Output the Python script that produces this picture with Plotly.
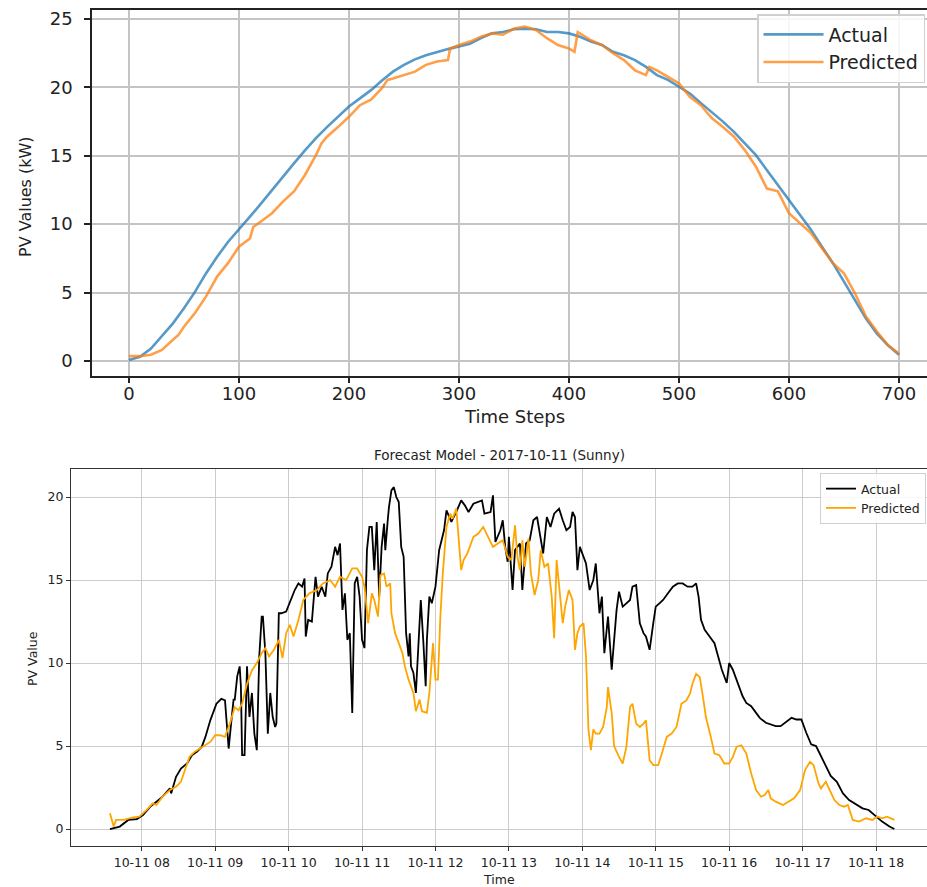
import plotly.graph_objects as go

# ---------------- Top chart data (time steps) ----------------
top_act_x = [0, 10, 20, 30, 40, 50, 60, 70, 80, 90, 100, 110, 120, 130, 140, 150, 160, 170, 180, 190,
             200, 210, 220, 230, 240, 250, 260, 270, 280, 290, 300, 310, 320, 330, 340, 350, 360, 370,
             380, 390, 400, 410, 420, 430, 440, 450, 460, 470, 480, 490, 500, 510, 520, 530, 540, 550,
             560, 570, 580, 590, 600, 610, 620, 630, 640, 650, 660, 670, 680, 690, 700]
top_act_y = [0.07, 0.3, 0.9, 1.8, 2.75, 3.85, 5.05, 6.4, 7.6, 8.7, 9.6, 10.55, 11.5, 12.5, 13.5, 14.45,
             15.4, 16.3, 17.1, 17.85, 18.6, 19.2, 19.8, 20.5, 21.15, 21.65, 22.05, 22.35, 22.6, 22.8,
             23.0, 23.2, 23.6, 23.95, 24.05, 24.25, 24.3, 24.25, 24.05, 24.05, 23.95, 23.7, 23.35, 23.1,
             22.6, 22.35, 22.0, 21.5, 20.9, 20.55, 20.05, 19.55, 18.85, 18.2, 17.5, 16.75, 15.9, 15.05,
             13.95, 12.85, 11.75, 10.65, 9.6, 8.35, 7.15, 5.8, 4.45, 3.1, 2.0, 1.15, 0.45]

top_pred_x = [0, 10, 20, 30, 40, 45, 50, 60, 70, 80, 90, 100, 110, 113, 120, 130, 140, 150, 160, 170,
              175, 180, 190, 200, 210, 220, 230, 235, 240, 250, 260, 270, 280, 290, 292, 300, 310, 320,
              330, 340, 350, 360, 370, 380, 390, 400, 405, 408, 415, 420, 430, 440, 450, 460, 470, 473,
              480, 490, 500, 510, 520, 525, 530, 540, 550, 560, 570, 580, 590, 600, 610, 620, 630, 640,
              650, 660, 670, 680, 690, 700]
top_pred_y = [0.35, 0.35, 0.45, 0.8, 1.55, 1.9, 2.5, 3.5, 4.7, 6.15, 7.15, 8.35, 8.95, 9.8, 10.2, 10.8,
              11.65, 12.4, 13.6, 15.05, 15.9, 16.4, 17.1, 17.85, 18.7, 19.1, 19.95, 20.55, 20.65, 20.9,
              21.15, 21.65, 21.9, 22.0, 22.85, 23.1, 23.35, 23.7, 23.95, 23.85, 24.3, 24.45, 24.2, 23.6,
              23.1, 22.85, 22.6, 24.05, 23.7, 23.45, 23.1, 22.5, 22.0, 21.25, 20.9, 21.5, 21.25, 20.8,
              20.3, 19.3, 18.7, 18.2, 17.75, 17.1, 16.4, 15.4, 14.2, 12.6, 12.4, 10.8, 10.05, 9.35, 8.25,
              7.15, 6.4, 4.95, 3.25, 2.15, 1.15, 0.55]

top_x_ticks = [0, 100, 200, 300, 400, 500, 600, 700]
top_y_ticks = [0, 5, 10, 15, 20, 25]

# ---------------- Bottom chart data (2017-10-11) ----------------
DAY = "2017-10-11 "
bot_act_t = ["07:34", "07:42", "07:49", "07:56", "08:01", "08:07", "08:12", "08:17", "08:23", "08:24",
             "08:28", "08:32", "08:37", "08:41", "08:45", "08:49", "08:52", "08:56", "09:01", "09:05",
             "09:08", "09:09", "09:11", "09:13", "09:15", "09:16", "09:18", "09:20", "09:21", "09:22",
             "09:24", "09:26", "09:28", "09:30", "09:32", "09:34", "09:36", "09:38", "09:39", "09:41",
             "09:43", "09:45", "09:47", "09:49", "09:50", "09:52", "09:54", "09:58", "10:02", "10:05",
             "10:08", "10:11", "10:13", "10:14", "10:16", "10:19", "10:22", "10:24", "10:27", "10:30",
             "10:32", "10:35", "10:38", "10:40", "10:42", "10:44", "10:46", "10:48", "10:50", "10:52",
             "10:54", "10:56", "10:58", "11:00", "11:02", "11:04", "11:06", "11:08", "11:10", "11:12",
             "11:14", "11:16", "11:18", "11:19", "11:21", "11:22", "11:24", "11:26", "11:28", "11:30",
             "11:32", "11:34", "11:36", "11:38", "11:39", "11:40", "11:42", "11:44", "11:46", "11:48",
             "11:50", "11:52", "11:53", "11:55", "11:57", "12:00", "12:03", "12:07", "12:09", "12:13",
             "12:17", "12:21", "12:24", "12:27", "12:31", "12:35", "12:38", "12:40", "12:45", "12:47",
             "12:49", "12:53", "12:55", "12:57", "12:59", "13:00", "13:03", "13:05", "13:09", "13:11",
             "13:14", "13:17", "13:20", "13:23", "13:25", "13:28", "13:31", "13:34", "13:37", "13:41",
             "13:44", "13:47", "13:50", "13:52", "13:54", "13:56", "13:58", "14:00", "14:03", "14:06",
             "14:09", "14:11", "14:14", "14:16", "14:18", "14:21", "14:24", "14:26", "14:28", "14:30",
             "14:33", "14:36", "14:39", "14:41", "14:44", "14:47", "14:50", "14:52", "14:55", "14:58",
             "15:00", "15:03", "15:06", "15:10", "15:14", "15:18", "15:22", "15:26", "15:30", "15:33",
             "15:35", "15:37", "15:40", "15:44", "15:48", "15:51", "15:54", "15:58", "16:00", "16:03",
             "16:07", "16:11", "16:14", "16:18", "16:22", "16:25", "16:30", "16:34", "16:38", "16:42",
             "16:47", "16:51", "16:55", "16:59", "17:03", "17:07", "17:11", "17:15", "17:19", "17:23",
             "17:28", "17:33", "17:38", "17:44", "17:49", "17:54", "18:00", "18:05", "18:11", "18:15"]
bot_act_v = [0.0, 0.15, 0.55, 0.6, 0.85, 1.35, 1.65, 1.95, 2.45, 2.15,
             3.15, 3.65, 3.95, 4.45, 4.65, 4.95, 5.55, 6.55, 7.55, 7.85,
             7.75, 6.75, 4.85, 6.35, 7.8, 7.8, 9.2, 9.8, 8.6, 4.45,
             4.45, 9.8, 6.75, 8.2, 5.75, 4.75, 10.4, 12.8, 12.8, 10.6,
             5.75, 8.2, 6.75, 6.15, 6.35, 13.0, 13.0, 13.1, 13.9, 14.4,
             14.8, 14.6, 15.1, 11.6, 12.6, 12.5, 15.2, 14.0, 14.6, 14.0,
             15.4, 15.8, 17.0, 16.5, 17.2, 13.2, 14.2, 11.4, 11.8, 7.0,
             14.8, 15.2, 14.0, 11.4, 10.9, 16.8, 18.2, 18.2, 15.6, 18.5,
             14.0, 17.0, 18.4, 16.8, 18.6, 19.4, 20.4, 20.6, 20.0, 19.7,
             17.0, 16.4, 11.8, 10.4, 11.8, 9.8, 9.4, 8.2, 11.0, 13.8,
             11.4, 8.6, 11.4, 14.0, 13.6, 14.6, 16.8, 18.0, 19.2, 18.5,
             19.1, 19.8, 19.5, 19.1, 19.6, 19.7, 19.8, 19.0, 19.1, 20.1,
             17.3, 18.0, 18.6, 17.0, 16.1, 17.6, 14.4, 16.8, 17.2, 14.4,
             17.2, 17.4, 18.6, 18.8, 18.0, 16.6, 18.8, 18.2, 19.0, 19.3,
             18.6, 18.0, 18.2, 19.1, 18.8, 15.6, 17.0, 16.6, 16.0, 14.4,
             15.0, 16.0, 13.0, 14.0, 10.6, 12.8, 9.6, 11.4, 13.2, 14.3,
             13.4, 13.6, 13.8, 14.6, 14.7, 12.4, 11.8, 11.6, 10.8, 12.4,
             13.4, 13.6, 13.8, 14.2, 14.6, 14.8, 14.8, 14.6, 14.6, 14.8,
             14.0, 12.6, 12.0, 11.6, 11.2, 10.4, 9.6, 8.8, 10.0, 9.6,
             8.8, 8.0, 7.6, 7.4, 7.0, 6.7, 6.4, 6.3, 6.2, 6.2,
             6.5, 6.7, 6.6, 6.6, 5.8, 5.1, 5.0, 4.4, 3.7, 3.2,
             2.85, 2.15, 1.75, 1.45, 1.25, 1.15, 0.75, 0.45, 0.15, 0.0]

bot_pred_t = ["07:34", "07:37", "07:39", "07:45", "07:53", "07:58", "08:04", "08:09", "08:12", "08:17",
              "08:23", "08:28", "08:32", "08:35", "08:39", "08:43", "08:47", "08:52", "08:56", "09:00",
              "09:04", "09:08", "09:12", "09:16", "09:19", "09:22", "09:26", "09:30", "09:34", "09:38",
              "09:41", "09:44", "09:48", "09:52", "09:55", "09:58", "10:01", "10:04", "10:08", "10:12",
              "10:17", "10:23", "10:28", "10:34", "10:38", "10:42", "10:47", "10:52", "10:56", "11:00",
              "11:02", "11:05", "11:08", "11:10", "11:13", "11:15", "11:18", "11:20", "11:23", "11:24",
              "11:27", "11:30", "11:33", "11:35", "11:38", "11:42", "11:44", "11:47", "11:49", "11:53",
              "11:55", "11:58", "12:00", "12:02", "12:04", "12:06", "12:09", "12:12", "12:14", "12:17",
              "12:19", "12:21", "12:23", "12:26", "12:31", "12:35", "12:39", "12:43", "12:47", "12:51",
              "12:55", "12:59", "13:02", "13:05", "13:07", "13:09", "13:11", "13:13", "13:16", "13:18",
              "13:21", "13:24", "13:26", "13:29", "13:32", "13:35", "13:37", "13:39", "13:41", "13:44",
              "13:46", "13:49", "13:52", "13:54", "13:56", "13:58", "14:01", "14:03", "14:05", "14:07",
              "14:09", "14:11", "14:14", "14:17", "14:20", "14:21", "14:24", "14:26", "14:30", "14:33",
              "14:36", "14:39", "14:41", "14:44", "14:47", "14:50", "14:52", "14:55", "14:58", "15:02",
              "15:05", "15:09", "15:13", "15:17", "15:21", "15:25", "15:28", "15:30", "15:33", "15:36",
              "15:39", "15:41", "15:45", "15:48", "15:52", "15:56", "16:00", "16:03", "16:06", "16:10",
              "16:14", "16:18", "16:22", "16:26", "16:29", "16:32", "16:34", "16:38", "16:44", "16:49",
              "16:53", "16:58", "17:02", "17:06", "17:09", "17:13", "17:15", "17:19", "17:22", "17:26",
              "17:30", "17:34", "17:37", "17:41", "17:46", "17:52", "17:57", "18:01", "18:05", "18:09",
              "18:15"]
bot_pred_v = [0.95, 0.15, 0.55, 0.55, 0.7, 0.75, 1.15, 1.55, 1.45, 1.95,
              2.35, 2.55, 2.85, 3.55, 4.35, 4.65, 4.85, 5.05, 5.25, 5.65,
              5.65, 5.55, 6.35, 7.35, 7.15, 7.55, 8.75, 9.55, 10.0, 10.6,
              10.9, 10.4, 10.8, 11.4, 10.3, 11.8, 12.3, 11.6, 12.6, 13.8,
              14.2, 14.4, 14.8, 15.0, 14.6, 15.2, 15.0, 15.7, 15.7, 15.2,
              14.6, 12.4, 14.2, 13.8, 12.8, 15.3, 15.4, 14.6, 14.8, 13.0,
              11.8, 11.2, 10.6, 9.8, 9.0, 8.2, 7.1, 7.8, 7.1, 7.0,
              8.2, 11.2, 9.0, 9.0, 12.8, 15.4, 18.2, 19.0, 18.7, 19.3,
              17.6, 15.6, 16.2, 16.6, 17.6, 17.8, 18.2, 17.6, 17.0, 17.2,
              17.4, 16.4, 16.2, 18.3, 16.4, 15.6, 17.4, 15.8, 17.5, 15.4,
              14.1, 15.0, 16.8, 15.8, 16.0, 14.0, 11.5, 16.2, 14.6, 12.4,
              13.4, 14.4, 13.8, 10.8, 11.8, 12.2, 12.4, 10.4, 6.0, 4.75,
              6.0, 5.75, 5.75, 6.15, 7.35, 8.55, 7.0, 5.0, 4.35, 3.95,
              4.95, 7.35, 7.55, 6.35, 6.15, 6.35, 6.55, 4.15, 3.85, 3.85,
              4.55, 5.55, 5.75, 6.15, 7.55, 7.75, 8.15, 8.75, 9.35, 9.15,
              7.75, 6.75, 5.55, 4.55, 4.45, 3.95, 3.95, 4.35, 4.95, 5.05,
              4.55, 3.35, 2.35, 1.95, 2.05, 2.35, 1.85, 1.65, 1.45, 1.65,
              1.85, 2.35, 3.55, 4.05, 3.85, 2.75, 2.45, 2.85, 2.35, 1.75,
              1.45, 1.35, 1.45, 0.55, 0.45, 0.65, 0.55, 0.75, 0.65, 0.75,
              0.55]

bot_y_ticks = [0, 5, 10, 15, 20]

# ---------------- Figure ----------------
W, H = 927, 887


def px(x):
    return x / W


def py(y):
    return 1 - y / H


fig = go.Figure()

fig.add_trace(go.Scatter(x=top_act_x, y=top_act_y, mode="lines", name="Actual",
                         line=dict(color="rgba(31,119,180,0.75)", width=2.6),
                         xaxis="x", yaxis="y", legend="legend"))
fig.add_trace(go.Scatter(x=top_pred_x, y=top_pred_y, mode="lines", name="Predicted",
                         line=dict(color="rgba(255,127,14,0.75)", width=2.6),
                         xaxis="x", yaxis="y", legend="legend"))

bt_act = [DAY + t for t in bot_act_t]
bt_pred = [DAY + t for t in bot_pred_t]
fig.add_trace(go.Scatter(x=bt_act, y=bot_act_v, mode="lines", name="Actual",
                         line=dict(color="black", width=1.8),
                         xaxis="x2", yaxis="y2", legend="legend2"))
fig.add_trace(go.Scatter(x=bt_pred, y=bot_pred_v, mode="lines", name="Predicted",
                         line=dict(color="#FFA500", width=1.8),
                         xaxis="x2", yaxis="y2", legend="legend2"))

top_font = dict(family="DejaVu Sans", size=18, color="#222")
bot_font = dict(family="DejaVu Sans", size=12.5, color="#222")

fig.update_layout(
    width=W, height=H,
    margin=dict(l=0, r=0, t=0, b=0, autoexpand=False),
    paper_bgcolor="white", plot_bgcolor="white",
    xaxis=dict(domain=[px(92), 1.0], anchor="y", range=[-33.6, 725.5], automargin=False,
               tickvals=top_x_ticks, ticks="outside", ticklen=5, tickwidth=1.5,
               tickcolor="#222", showline=True, linecolor="#222", linewidth=1.6, mirror=True,
               showgrid=True, gridcolor="#c4c4c4", gridwidth=1.6, zeroline=False,
               tickfont=top_font, ticklabelstandoff=-4),
    yaxis=dict(domain=[py(376), py(10)], anchor="x", range=[-1.1, 25.66], automargin=False,
               tickvals=top_y_ticks, ticks="outside", ticklen=6, tickwidth=1.5,
               tickcolor="#222", showline=True, linecolor="#222", linewidth=1.6, mirror=False,
               showgrid=True, gridcolor="#c4c4c4", gridwidth=1.6, zeroline=False,
               tickfont=top_font, ticklabelstandoff=8),
    xaxis2=dict(domain=[px(71), 1.0], anchor="y2", type="date", automargin=False,
                range=["2017-10-11 07:02:10", "2017-10-11 18:41:40"],
                tick0="2017-10-11 08:00", dtick=3600000, tickformat="%m-%d %H",
                ticks="outside", ticklen=4, tickwidth=1, tickcolor="#333",
                showline=True, linecolor="#333", linewidth=1.2, mirror=True,
                showgrid=True, gridcolor="#cccccc", gridwidth=1, zeroline=False,
                tickfont=bot_font, ticklabelstandoff=1),
    yaxis2=dict(domain=[py(846), py(469)], anchor="x2", range=[-1.02, 21.69], automargin=False,
                tickvals=bot_y_ticks, ticks="outside", ticklen=4, tickwidth=1,
                tickcolor="#333", showline=True, linecolor="#333", linewidth=1.2, mirror=False,
                showgrid=True, gridcolor="#cccccc", gridwidth=1, zeroline=False,
                tickfont=bot_font, ticklabelstandoff=0),
    legend=dict(x=px(925), y=py(14), xanchor="right", yanchor="top",
                bgcolor="rgba(255,255,255,0.85)", bordercolor="#d0d0d0", borderwidth=1.5,
                font=dict(family="DejaVu Sans", size=19, color="#222"),
                itemwidth=60, tracegroupgap=0),
    legend2=dict(x=px(926), y=py(473), xanchor="right", yanchor="top",
                 bgcolor="rgba(255,255,255,0.85)", bordercolor="#d0d0d0", borderwidth=1,
                 font=dict(family="DejaVu Sans", size=12.5, color="#222"),
                 itemwidth=30, tracegroupgap=0),
    showlegend=True,
)

ann = [
    dict(text="Time Steps", x=px(514), y=py(417), font=dict(family="DejaVu Sans", size=18, color="#222")),
    dict(text="PV Values (kW)", x=px(25), y=py(197), textangle=-90,
         font=dict(family="DejaVu Sans", size=16, color="#222")),
    dict(text="Forecast Model - 2017-10-11 (Sunny)", x=px(499), y=py(455),
         font=dict(family="DejaVu Sans", size=13.5, color="#222")),
    dict(text="Time", x=px(499), y=py(879), font=dict(family="DejaVu Sans", size=12.5, color="#222")),
    dict(text="PV Value", x=px(32), y=py(658), textangle=-90,
         font=dict(family="DejaVu Sans", size=12.5, color="#222")),
]
for a in ann:
    fig.add_annotation(xref="paper", yref="paper", showarrow=False,
                       xanchor="center", yanchor="middle", **a)

fig.write_html("out.html", config={"displayModeBar": False},
               post_script="document.body.style.margin='0px';document.body.style.overflow='hidden';")
